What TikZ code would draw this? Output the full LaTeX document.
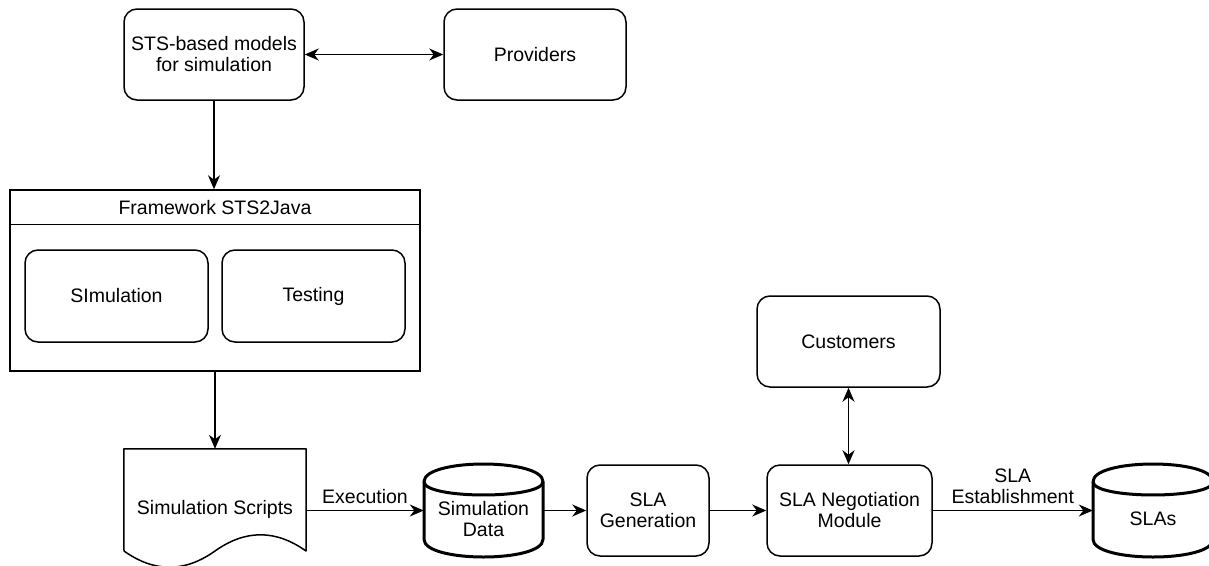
\documentclass[tikz,border=0pt]{standalone}
\usepackage{fontspec}
\setmainfont{Liberation Sans}
\usetikzlibrary{arrows.meta,calc}
\newcommand\mycyl[4]{% x0, y0, w, h
  \draw[cylline] ({#1},{#2+17.7}) .. controls ({#1},{#2-5.9}) and ({#1+#3},{#2-5.9}) .. ({#1+#3},{#2+17.7})
     -- ({#1+#3},{#2+#4-17.7}) .. controls ({#1+#3},{#2+#4+5.9}) and ({#1},{#2+#4+5.9}) .. ({#1},{#2+#4-17.7}) -- cycle;
  \draw[cylline] ({#1},{#2+17.7}) .. controls ({#1},{#2+35.4}) and ({#1+#3},{#2+35.4}) .. ({#1+#3},{#2+17.7});
}
\begin{document}
\begin{tikzpicture}[x=1pt,y=-1pt,
  every node/.style={font=\fontsize{19.5}{21}\selectfont, align=center},
  box/.style={draw, rounded corners=13pt, line width=1.5pt, inner sep=0pt},
  plain/.style={inner sep=0pt},
  cylline/.style={line width=3pt, line join=round},
  tip/.tip={Stealth[length=14pt,width=12pt,inset=4.5pt]},
  arr/.style={-tip, line width=1.6pt},
  darr/.style={tip-tip, line width=1.6pt},
  lbl/.style={above, inner sep=6pt}
]
\useasboundingbox (0,0) rectangle (1209,565);

% top row
\node[box, minimum width=180pt, minimum height=91pt] (sts) at (214,54.5) {STS-based models\\for simulation};
\node[box, minimum width=182pt, minimum height=91pt] (prov) at (535,54.5) {Providers};

% framework
\node[draw, line width=1.5pt, minimum width=410pt, minimum height=181pt, inner sep=0pt] (fw) at (215,280.5) {};
\draw[line width=1.5pt] ($(fw.north west)+(0,35)$) -- ($(fw.north east)+(0,35)$);
\node[plain] (fwt) at (215,207.5) {Framework STS2Java};
\node[box, minimum width=183pt, minimum height=92pt] (sim) at (116.5,296) {SImulation};
\node[box, minimum width=183pt, minimum height=92pt] (test) at (313.5,296) {Testing};

% document
\node[plain, minimum width=182pt, minimum height=120pt] (doc) at (215,509) {Simulation Scripts};
\draw[line width=1.5pt, line join=round] (doc.north west) -- (doc.north east) -- (306,551)
  .. controls (275.67,529.4) and (245.33,529.4) .. (215,551)
  .. controls (184.67,572.6) and (154.33,572.6) .. (124,551) -- cycle;

% simulation data cylinder
\mycyl{424}{464}{119}{93}
\node[plain, minimum width=119pt, minimum height=93pt] (simdata) at (483.5,510.5) {};
\node[plain] (simdatat) at (483.5,519) {Simulation\\Data};

% SLA generation / negotiation / customers
\node[box, minimum width=122pt, minimum height=91pt] (gen) at (648,510.5) {SLA\\Generation};
\node[box, minimum width=165pt, minimum height=91pt] (neg) at (849.5,510.5) {SLA Negotiation\\Module};
\node[box, minimum width=183pt, minimum height=91pt] (cust) at (848.5,341.5) {Customers};

% SLAs cylinder
\mycyl{1093}{464}{120}{93}
\node[plain, minimum width=120pt, minimum height=93pt] (slas) at (1153,510.5) {};
\node[plain] (slast) at (1153,519) {SLAs};

% connectors
\draw[darr] (sts.east) -- (prov.west);
\draw[arr] (sts.south) -- (sts.south |- fw.north);
\draw[arr] (fw.south) -- (doc.north);
\draw[arr] (doc.east |- simdata.west) -- node[lbl] {Execution} (simdata.west);
\draw[arr] (simdata.east) -- (gen.west);
\draw[arr] (gen.east) -- (neg.west);
\draw[darr] (cust.south) -- (cust.south |- neg.north);
\draw[arr] (neg.east) -- node[lbl] {SLA\\Establishment} (slas.west);
\end{tikzpicture}
\end{document}
